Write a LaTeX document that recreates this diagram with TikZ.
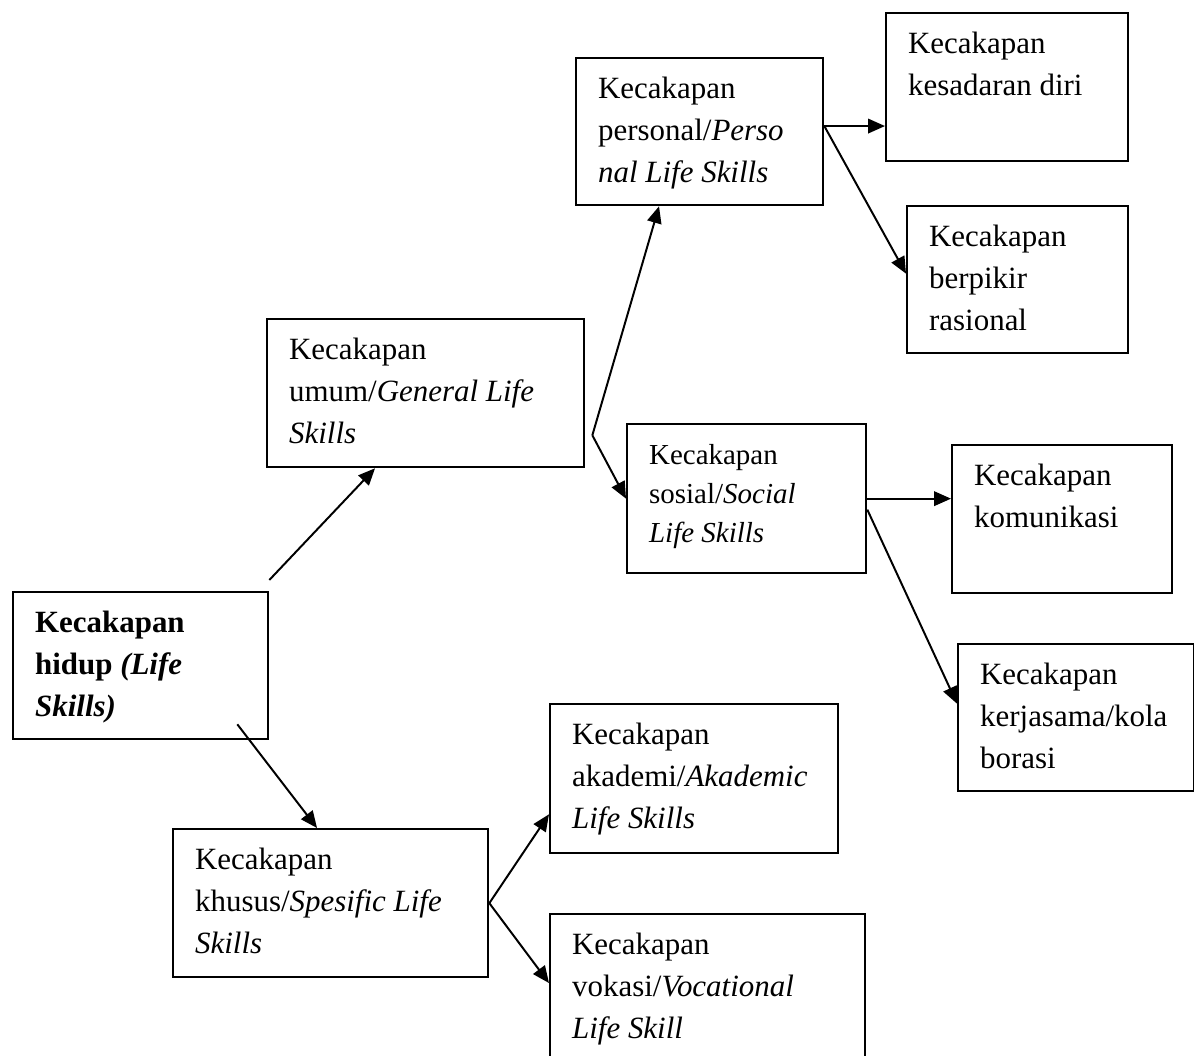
\documentclass[tikz,border=0pt]{standalone}
\usepackage{fontspec}
\setmainfont{Liberation Serif}
\usetikzlibrary{arrows.meta}
\newcommand{\skillfont}{\fontsize{22}{29.9}\selectfont}
\newcommand{\smallskillfont}{\fontsize{20.6}{27.7}\selectfont}

\begin{document}
\begin{tikzpicture}[x=0.025cm, y=-0.025cm,
	skill/.style={draw, line width=1.6pt, anchor=north west, align=flush left,
		inner xsep=0.55cm, inner ysep=0pt, text height=1cm, text depth=2.675cm,
		font=\skillfont},
	link/.style={line width=1.4pt, -{Triangle[length=0.42cm,width=0.36cm]}}]
	
	\useasboundingbox (0,0) rectangle (1194,1055);
	\clip (0,0) rectangle (1194,1055);
	
	\node [skill, text width=5.275cm, font=\skillfont\bfseries] (hidup) at (12,591) {Kecakapan\\hidup \textit{(Life}\\\textit{Skills)}};
	
	\node [skill, text width=6.825cm, text depth=2.7cm] (umum) at (266,318) {Kecakapan\\umum/\textit{General Life}\\\textit{Skills}};
	\node [skill, text width=6.775cm, text depth=2.7cm] (khusus) at (172,828) {Kecakapan\\khusus/\textit{Spesific Life}\\\textit{Skills}};
	
	\node [skill, text width=5.075cm] (personal) at (575,57) {Kecakapan\\personal/\textit{Perso}\\\textit{nal Life Skills}};
	\node [skill, text width=4.875cm, text depth=2.725cm, font=\smallskillfont] (sosial) at (626,423) {Kecakapan\\sosial/\textit{Social}\\\textit{Life Skills}};
	\node [skill, text width=6.1cm, text depth=2.725cm] (akademi) at (549,703) {Kecakapan\\akademi/\textit{Akademic}\\\textit{Life Skills}};
	\node [skill, text width=6.775cm] (vokasi) at (549,913) {Kecakapan\\vokasi/\textit{Vocational}\\\textit{Life Skill}};
	
	\node [skill, text width=4.95cm, text depth=2.7cm] (diri) at (885,12) {Kecakapan\\kesadaran diri};
	\node [skill, text width=4.425cm] (rasional) at (906,205) {Kecakapan\\berpikir\\rasional};
	\node [skill, text width=4.4cm, text depth=2.7cm] (komunikasi) at (951,444) {Kecakapan\\komunikasi};
	\node [skill, text width=4.8cm] (kerjasama) at (957,643) {Kecakapan\\kerjasama/kola\\borasi};
	
	\coordinate (fork) at ([xshift=0.175cm,yshift=0.825cm]umum.south east);
	\coordinate (pout) at ([yshift=0.14cm]personal.east);
	
	\draw [link] ([yshift=0.275cm]hidup.north east) -- ([xshift=2.725cm]umum.south west);
	\draw [link] ([xshift=-0.8cm,yshift=0.4cm]hidup.south east) -- ([xshift=3.625cm]khusus.north west);
	
	\draw [link] (fork) -- ([xshift=2.1cm]personal.south west);
	\draw [link] (fork) -- (sosial.west);
	
	\draw [link] (pout) -- (pout -| diri.west);
	\draw [link] (pout) -- ([yshift=0.15cm]rasional.west);
	
	\draw [link] (sosial.east) -- (sosial.east -| komunikasi.west);
	\draw [link] ([yshift=-0.275cm]sosial.east) -- ([yshift=0.35cm]kerjasama.west);
	
	\draw [link] (khusus.east) -- ([yshift=-0.89cm]akademi.west);
	\draw [link] (khusus.east) -- ([yshift=-1.75cm]vokasi.north west);
	
\end{tikzpicture}
\end{document}
